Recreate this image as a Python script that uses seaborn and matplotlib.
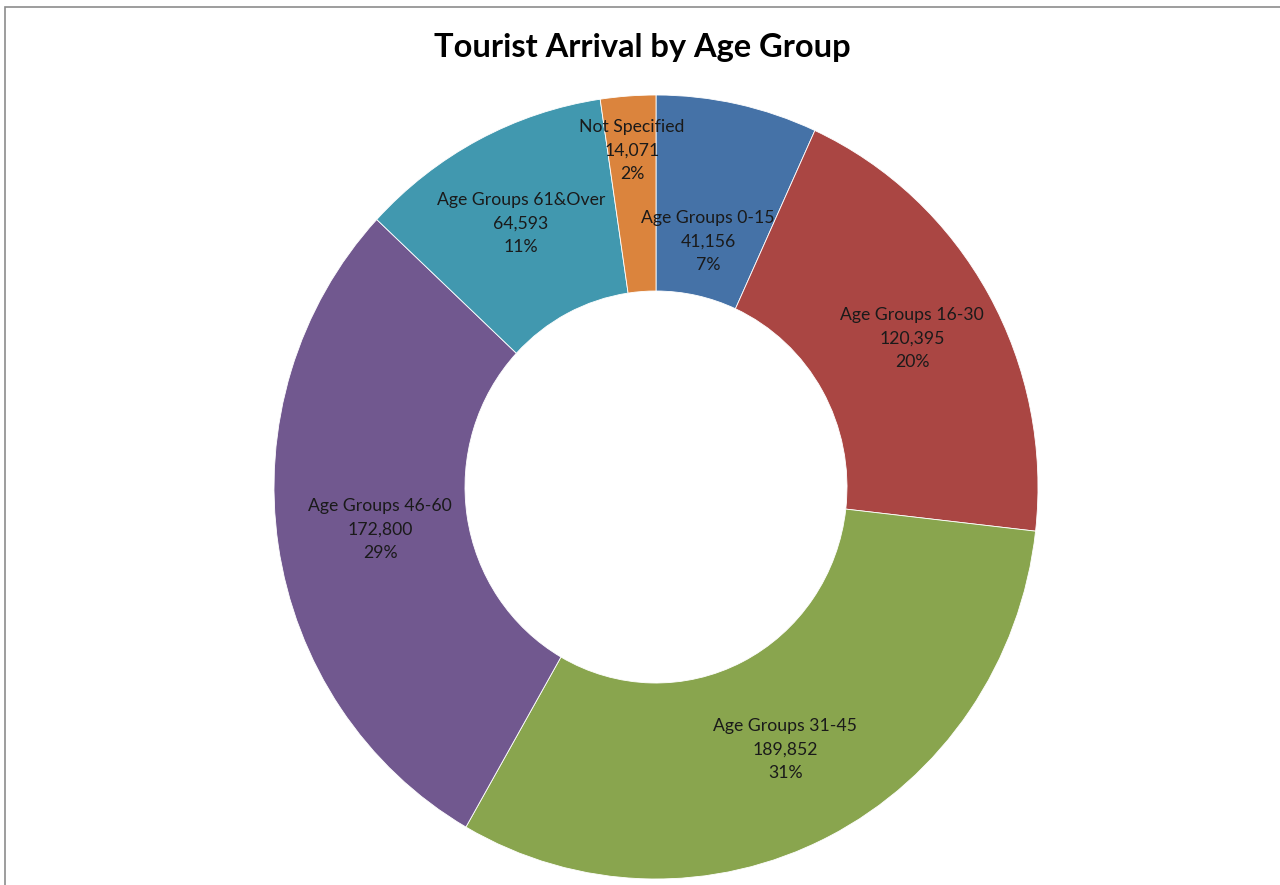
import numpy as np
import matplotlib
matplotlib.use("Agg")
import matplotlib.pyplot as plt
import seaborn as sns
from matplotlib.patches import Rectangle

# data
groups = ["Age Groups 0-15", "Age Groups 16-30", "Age Groups 31-45",
          "Age Groups 46-60", "Age Groups 61&Over", "Not Specified"]
arrivals = [41156, 120395, 189852, 172800, 64593, 14071]
colors = ["#4572A7", "#AA4643", "#89A54E", "#71588F", "#4198AF", "#DB843D"]

# where each label sits, as a fraction of the outer radius
label_r = [0.64, 0.77, 0.75, 0.73, 0.76, 0.86]

sns.set_theme(style="white")
plt.rcParams["font.family"] = ["Lato", "DejaVu Sans"]

fig = plt.figure(figsize=(12.8, 8.85), dpi=100)
# the reference donut is a touch wider than tall, so no equal aspect
ax = fig.add_axes([274 / 1280, (398 - 392) / 885, 764 / 1280, 784 / 885])

palette = sns.color_palette(colors)
wedges, _ = ax.pie(arrivals, colors=palette, startangle=90, counterclock=False,
                   radius=1, wedgeprops=dict(width=0.5, edgecolor="white", linewidth=0.6))
ax.set_xlim(-1, 1)
ax.set_ylim(-1, 1)
ax.set_aspect("auto")
ax.axis("off")

total = sum(arrivals)
for w, name, val, r in zip(wedges, groups, arrivals, label_r):
    ang = np.deg2rad((w.theta1 + w.theta2) / 2)
    pct = 100 * val / total
    ax.text(r * np.cos(ang), r * np.sin(ang), f"{name}\n{val:,}\n{pct:.0f}%",
            ha="center", va="center", fontsize=12.7, color="#1a1a1a", linespacing=1.58)

fig.text(0.502, 1 - 47 / 885, "Tourist Arrival by Age Group", ha="center", va="center",
         fontsize=23.5, fontweight="bold", color="black")

# chart-area border, cropped at right and bottom like the reference
fig.patches.append(Rectangle((5 / 1280, -0.1), 1.2, 1 - 7 / 885 + 0.1, transform=fig.transFigure,
                             fill=False, edgecolor="#8c8c8c", linewidth=1.2))

fig.savefig("out.png", dpi=100)
